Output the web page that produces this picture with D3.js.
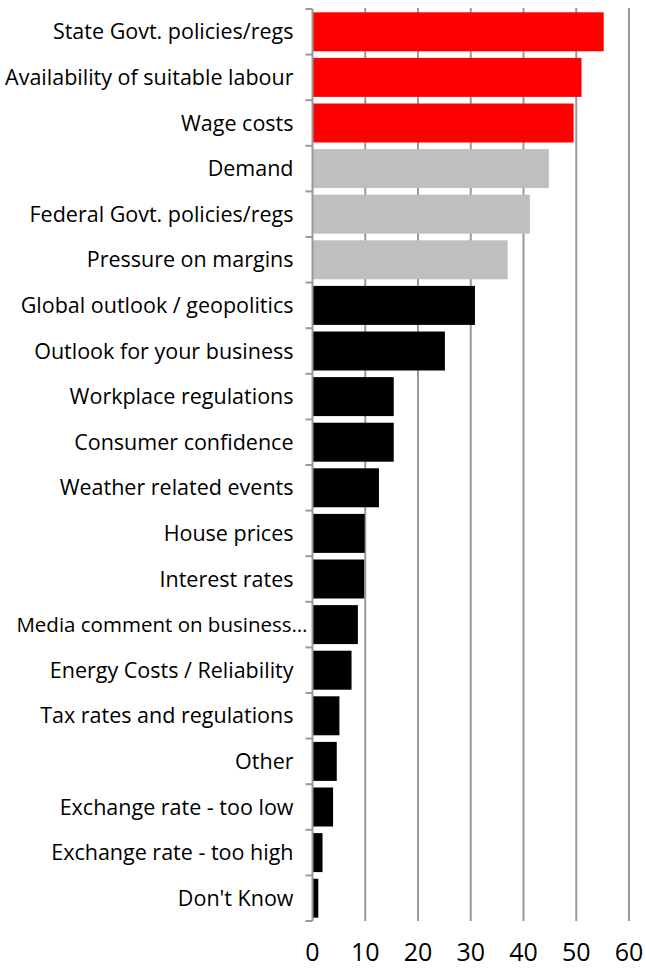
<!DOCTYPE html>
<html>
<head>
<meta charset="utf-8">
<script src="https://cdn.jsdelivr.net/npm/d3@7"></script>
<style>
  body { margin: 0; background: #fff; }
  text { font-family: "Open Sans", "Noto Sans", sans-serif; fill: #000; }
</style>
</head>
<body>
<script>
// categories top to bottom
const categories = [
  'State Govt. policies/regs',
  'Availability of suitable labour',
  'Wage costs',
  'Demand',
  'Federal Govt. policies/regs',
  'Pressure on margins',
  'Global outlook / geopolitics',
  'Outlook for your business',
  'Workplace regulations',
  'Consumer confidence',
  'Weather related events',
  'House prices',
  'Interest rates',
  'Media comment on business…',
  'Energy Costs / Reliability',
  'Tax rates and regulations',
  'Other',
  'Exchange rate - too low',
  'Exchange rate - too high',
  "Don't Know",
];
const values = [55.2, 51.0, 49.5, 44.8, 41.2, 37.0, 30.8, 25.1, 15.4, 15.4,
                12.6, 9.9, 9.8, 8.6, 7.4, 5.1, 4.6, 3.9, 1.9, 1.1];
const groups = ['red', 'red', 'red', 'grey', 'grey', 'grey', 'black', 'black', 'black', 'black',
                'black', 'black', 'black', 'black', 'black', 'black', 'black', 'black', 'black', 'black'];
const ticks = [0, 10, 20, 30, 40, 50, 60];

const colors = { red: '#ff0000', grey: '#bfbfbf', black: '#000000' };

const margin = { top: 9, right: 17, bottom: 48, left: 312.5 };
const W = 646, H = 969;
const width = W - margin.left - margin.right;
const height = H - margin.top - margin.bottom;

const svg = d3.select('body').append('svg')
  .attr('width', W).attr('height', H);
const g = svg.append('g')
  .attr('transform', `translate(${margin.left},${margin.top})`);

const x = d3.scaleLinear().domain([0, 60]).range([0, 316.5]);
const y = d3.scaleBand().domain(categories).range([0, height]).paddingInner(0.145).paddingOuter(0.0725);

// gridlines
g.selectAll('.grid')
  .data(ticks.slice(1))
  .enter().append('line')
  .attr('x1', d => x(d)).attr('x2', d => x(d))
  .attr('y1', -1).attr('y2', height)
  .attr('stroke', '#999').attr('stroke-width', 2);

// bars
g.selectAll('.bar')
  .data(categories)
  .enter().append('rect')
  .attr('x', 0)
  .attr('y', d => y(d))
  .attr('width', (d, i) => x(values[i]))
  .attr('height', y.bandwidth())
  .attr('fill', (d, i) => colors[groups[i]]);

// category axis line and tick marks
const step = y.step();
g.append('line')
  .attr('x1', 0).attr('x2', 0).attr('y1', 0).attr('y2', height)
  .attr('stroke', '#999').attr('stroke-width', 2);
g.selectAll('.ytick')
  .data(d3.range(categories.length + 1))
  .enter().append('line')
  .attr('x1', -7).attr('x2', 0)
  .attr('y1', i => i * step).attr('y2', i => i * step)
  .attr('stroke', '#999').attr('stroke-width', 2);

// category labels (the truncated one runs up to the axis)
g.selectAll('.lbl')
  .data(categories)
  .enter().append('text')
  .attr('x', d => d.endsWith('…') ? -5 : -19)
  .attr('y', d => y(d) + y.bandwidth() / 2)
  .attr('dy', '0.35em')
  .attr('text-anchor', 'end')
  .style('font-size', d => d.endsWith('…') ? '20.5px' : '21.5px')
  .text(d => d);

// value axis labels
g.selectAll('.xlbl')
  .data(ticks)
  .enter().append('text')
  .attr('x', d => x(d))
  .attr('y', height + 40)
  .attr('text-anchor', 'middle')
  .style('font-size', '25px')
  .text(d => d);
</script>
</body>
</html>
